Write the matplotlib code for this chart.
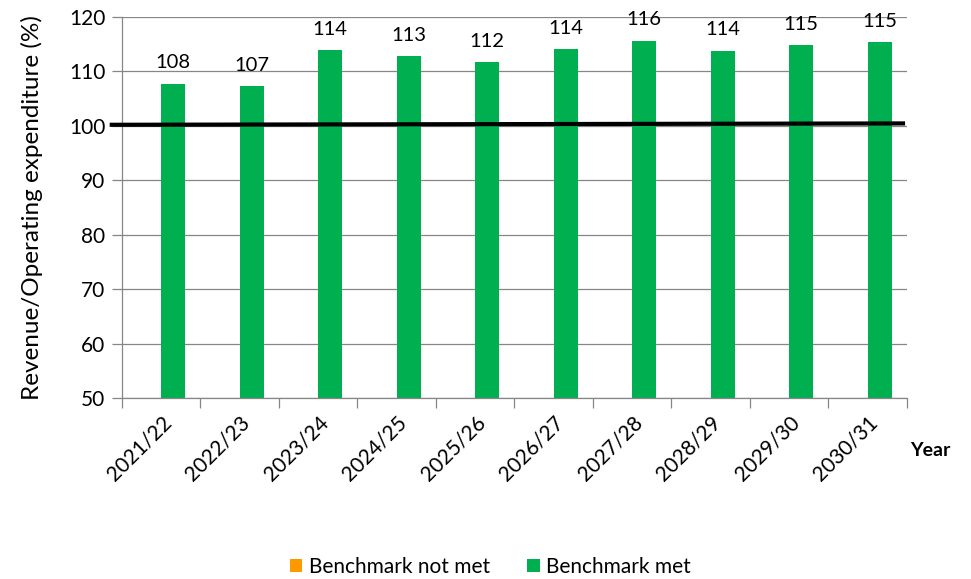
import numpy as np
import matplotlib
matplotlib.use('Agg')
import matplotlib.pyplot as plt

plt.rcParams['font.family'] = ['Lato', 'DejaVu Sans']

years = ['2021/22', '2022/23', '2023/24', '2024/25', '2025/26',
         '2026/27', '2027/28', '2028/29', '2029/30', '2030/31']
benchmark_met = [107.7, 107.3, 113.9, 112.8, 111.7, 114.05, 115.65, 113.8, 114.85, 115.4]
benchmark_not_met = [0] * len(years)
benchmark_x = [-0.63, 9.45]
benchmark_level = [100.2, 100.45]

green = '#00B050'
orange = '#FF9900'
grid_col = '#868686'

fig = plt.figure(figsize=(9.71, 5.79), dpi=100)
ax = fig.add_axes([0.1256, 0.3126, 0.8084, 0.658])

x = np.arange(len(years))
w = 0.306
ax.bar(x, benchmark_not_met, width=-w, align='edge', color=orange, label='Benchmark not met', zorder=2)
ax.bar(x, benchmark_met, width=w, align='edge', color=green, label='Benchmark met', zorder=2)

for xi, v in zip(x, benchmark_met):
    ax.annotate(f'{v:.0f}', (xi + w / 2, v), xytext=(0, 9), textcoords='offset points',
                ha='center', va='bottom', fontsize=14.5, color='black')

ax.plot(benchmark_x, benchmark_level, color='black', lw=3, clip_on=False, zorder=3)

ax.set_ylim(50, 120)
ax.set_xlim(-0.5, len(years) - 0.5)
ax.set_yticks(np.arange(50, 121, 10))
ax.yaxis.grid(True, color=grid_col, lw=0.9)
ax.set_axisbelow(True)

ax.set_xticks(x)
ax.set_xticklabels(years, rotation=45, ha='right', rotation_mode='anchor', fontsize=15)
ax.set_xticks(np.arange(-0.5, len(years), 1), minor=True)
ax.tick_params(axis='x', which='major', length=0, pad=10)
ax.tick_params(axis='x', which='minor', length=7, color=grid_col, width=0.9)
ax.tick_params(axis='y', length=7, color=grid_col, width=0.9, labelsize=15, pad=5)

for s in ['top', 'right']:
    ax.spines[s].set_visible(False)
for s in ['left', 'bottom']:
    ax.spines[s].set_color(grid_col)
    ax.spines[s].set_linewidth(0.9)

ax.set_ylabel('Revenue/Operating expenditure (%)', fontsize=17.5)
ax.yaxis.set_label_coords(-0.10, 0.5)
fig.text(0.937, 0.222, 'Year', fontsize=14, fontweight='bold', va='center', ha='left')

fig.legend(loc='center', bbox_to_anchor=(0.505, 0.021), ncol=2, frameon=False,
           fontsize=15, handlelength=0.6, handleheight=0.6, handletextpad=0.3,
           columnspacing=1.8, borderaxespad=0, borderpad=0)

fig.savefig('out.png', dpi=100)
